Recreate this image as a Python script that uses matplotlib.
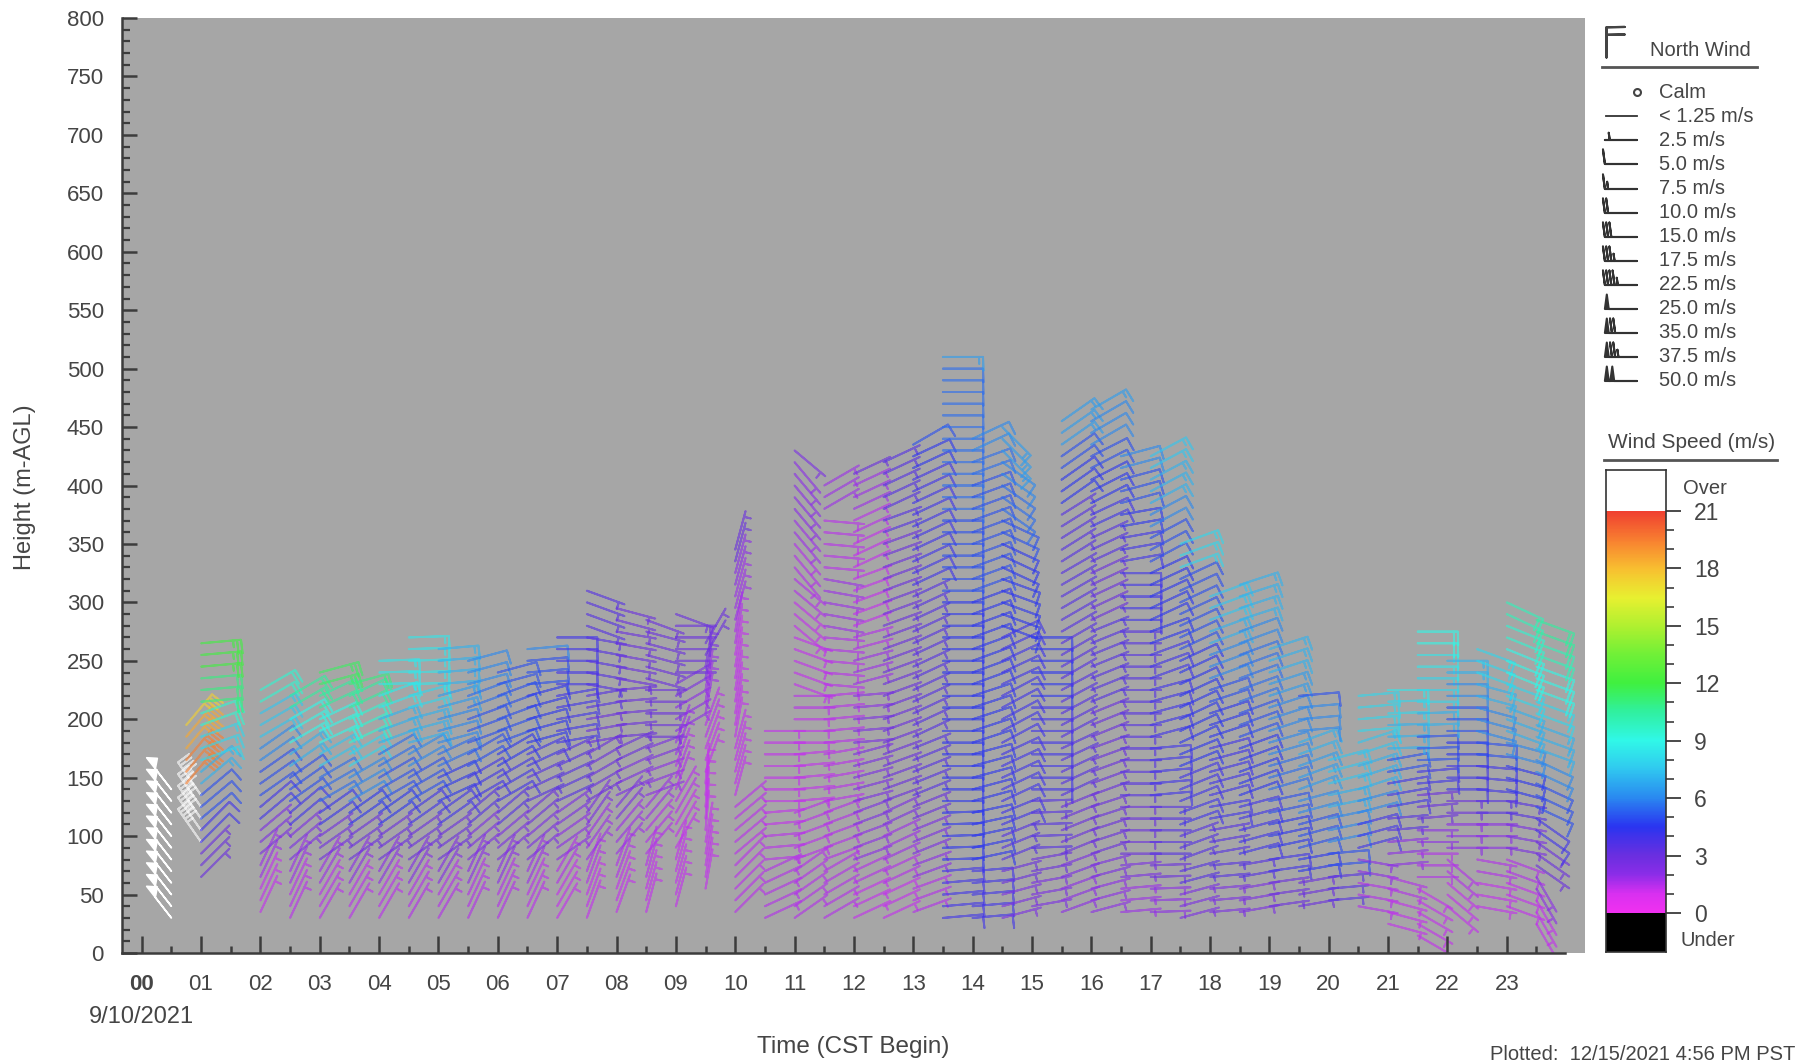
import numpy as np
import matplotlib
matplotlib.use("Agg")
import matplotlib.pyplot as plt
from matplotlib.colors import LinearSegmentedColormap, Normalize

plt.rcParams['font.family'] = ['Liberation Sans', 'DejaVu Sans']

W, H = 1797, 1061

# columns of the profiler: hour, lowest gate, highest gate (m)
col_hours = [0.5, 1.0, 0.75, 1.0, 2.0, 2.5, 3.0, 3.5, 4.0, 4.5, 5.0, 5.5, 6.0, 6.5, 7.0, 7.5, 8.0, 8.5, 9.0, 9.5,
             10.0, 10.5, 11.0, 11.5, 12.0, 12.5, 13.0, 13.5, 14.0, 14.5, 15.0, 15.5, 16.0, 16.5, 17.0, 17.5,
             18.0, 18.5, 19.0, 19.5, 20.0, 20.5, 21.0, 21.5, 22.0, 22.5, 23.0, 23.5]
col_bottom = [30, 95, 145, 65, 35, 30, 30, 30, 30, 30, 30, 30, 30, 30, 30, 30, 35, 35, 40, 55,
              35, 30, 30, 30, 30, 30, 35, 30, 30, 30, 40, 35, 35, 35, 35, 30,
              35, 35, 40, 40, 45, 40, 25, 15, 40, 40, 40, 25]
col_top = [140, 140, 200, 265, 225, 225, 240, 235, 250, 270, 260, 250, 240, 260, 270, 315, 300, 290, 295, 270,
           350, 195, 430, 400, 410, 425, 440, 510, 440, 450, 275, 460, 470, 425, 430, 350,
           310, 315, 260, 220, 170, 225, 225, 275, 250, 265, 300, 285]

# speed (m/s) per 25 m going up from the lowest gate
col_speed = [
    [26], [23], [19.5, 18.5, 17.5], [3, 4, 5, 7, 8, 9.5, 11, 12],
    [1.3, 1.8, 2.5, 4, 5, 6, 7.5, 9.5],
    [1.4, 1.8, 2.5, 4, 5, 7, 9, 10.5, 11.5],
    [1.4, 1.8, 2.8, 4.2, 5.5, 7.5, 9, 10.5, 11.5],
    [1.4, 2, 3, 4.5, 6, 8, 9.5, 10.5, 11],
    [1.4, 2, 3, 4.5, 5, 5.5, 7, 8.5, 8.5, 8.5],
    [1.5, 2.2, 3, 4, 5, 6, 7, 8, 8.5, 8.5, 8.5],
    [1.5, 2.2, 3, 4, 4.5, 5.5, 6, 6.5, 7, 7, 7.5],
    [1.5, 2, 2.5, 3.5, 4, 5, 5, 5.5, 6, 6.5],
    [1.5, 2, 2.5, 3.5, 4, 4.5, 5, 5, 5, 5.5],
    [1.4, 1.8, 2.5, 3, 3.5, 4, 4.5, 4.5, 5, 6, 8],
    [1.3, 1.5, 2, 2.5, 3.5, 3.5, 4, 4, 4, 4, 4.5],
    [1.3, 1.5, 1.8, 2.5, 3, 3, 3, 3.5, 3.5, 3.5, 3.5, 3.5],
    [1.3, 1.5, 1.8, 2.5, 2.5, 3, 3, 3, 3, 3, 3],
    [1.3, 1.4, 1.5, 1.8, 2, 2.5, 3, 3, 3, 3, 3],
    [1.3, 1.3, 1.3, 1.4, 1.5, 1.8, 2, 2.5, 3, 3],
    [1.3, 1.3, 1.3, 1.3, 1.3, 1.4, 1.8, 2.5, 3],
    [1.4, 1.4, 1.4, 1.4, 1.3, 1.3, 1.3, 1.3, 1.3, 1.5, 1.8, 2, 3],
    [1.5, 1.5, 1.4, 1.3, 1.3, 1.3, 1.3],
    [1.5, 1.5, 1.4, 1.4, 1.3, 1.3, 1.3, 1.4, 1.3, 1.3, 1.3, 1.5, 1.5, 1.8, 2, 2, 2.5],
    [1.5, 1.5, 1.5, 1.5, 1.4, 1.4, 1.4, 1.4, 1.4, 1.5, 1.8, 1.8, 1.4, 1.4, 1.8, 2],
    [1.3, 1.5, 2, 2.5, 2.5, 2.5, 2.5, 2, 1.8, 1.5, 1.3, 1.3, 1.3, 1.4, 1.8, 3],
    [1.3, 1.5, 1.8, 2.5, 3, 3, 3, 3, 3, 3, 3, 3, 3, 3.5, 3.5, 3.5, 3.5],
    [1.5, 2, 2.5, 3, 3.5, 3.5, 3.5, 3.5, 3.5, 3.5, 3.5, 4, 4, 4, 4, 4.5, 5],
    [4, 4, 4.5, 4.5, 4.5, 4.5, 4.5, 4.5, 4.5, 4.5, 4.5, 5, 5, 5, 5.5, 5.5, 5.5, 5.5, 5.5, 6.5],
    [4, 4, 4.5, 4.5, 4.5, 4.5, 4.5, 4.5, 4.5, 4.5, 4.5, 5, 5, 5, 5, 5.5, 6, 6],
    [2.5, 3, 3.5, 4, 4, 4, 4, 4, 4, 4, 4.5, 4.5, 4.5, 5, 5.5, 6, 6.5, 7],
    [2.5, 3, 3.5, 3.5, 4, 4, 4, 4.5, 4.5, 4.5],
    [2, 2.5, 3, 3, 3.5, 3.5, 3.5, 3.5, 3.5, 3.5, 3.5, 3.5, 3.5, 3.5, 4.5, 5, 6.5],
    [2, 2.5, 3, 3, 3, 3, 3, 3.5, 3.5, 3.5, 3, 3, 3.5, 4, 4.5, 5, 6, 6.5],
    [1.8, 2.5, 3, 3, 3.5, 3.5, 3.5, 3.5, 3.5, 3.5, 4, 4, 4, 4.5, 5, 6],
    [2, 3, 3.5, 3.5, 4, 4, 4, 4, 4, 4.5, 4.5, 4.5, 5, 6, 7, 7.5],
    [2.5, 3.5, 3.5, 4, 4, 4.5, 4.5, 4.5, 4.5, 5, 5, 5, 8],
    [2.5, 3.5, 3.5, 4, 4, 4, 4.5, 5, 6, 7, 7.5],
    [2.5, 3.5, 4, 4, 4.5, 4.5, 5, 5.5, 5.5, 6, 7],
    [3, 4, 4.5, 5, 5.5, 6, 6, 6.5, 7],
    [3, 4.5, 5, 6, 6.5, 7, 6, 5],
    [3.5, 5, 6, 7, 7.5],
    [1.5, 2, 4, 6, 7, 7.5, 8, 8, 8],
    [1.3, 1.5, 2, 3.5, 4, 5, 7, 8, 8.5],
    [1.3, 1.3, 1.5, 2, 3, 4, 5, 7, 8, 8.5, 9],
    [1.3, 1.5, 2, 3, 4, 4.5, 5, 6, 7, 8],
    [1.3, 1.5, 2, 3.5, 4, 5, 6, 7, 8, 9],
    [1.3, 1.5, 2.5, 3.5, 4.5, 6, 7, 8, 9, 9.5, 10],
    [1.3, 2, 3, 4, 5, 6, 7, 8, 9, 10, 10.5],
]

# direction (deg) per 50 m going up from the lowest gate
col_dir = [
    [322], [325], [40], [45, 50, 70, 85],
    [25, 50, 55, 60, 65], [25, 50, 55, 60, 70], [30, 55, 60, 65, 75], [30, 55, 60, 65, 75],
    [30, 55, 60, 70, 88], [30, 55, 60, 75, 88], [30, 55, 65, 75, 85, 88], [25, 50, 60, 70, 75, 78],
    [25, 50, 60, 70, 75, 75], [25, 50, 65, 75, 85, 88], [30, 55, 65, 80, 90, 90],
    [20, 35, 60, 80, 100, 110, 110], [20, 40, 65, 85, 100, 105], [15, 40, 70, 90, 105, 110],
    [15, 30, 20, 60, 90, 110, 115], [10, 5, 20, 10, 30, 25, 30],
    [45, 50, 15, 10, 10, 15, 15, 20], [65, 85, 90, 90], [55, 70, 85, 90, 110, 130, 140, 140, 130],
    [60, 70, 80, 85, 95, 100, 95, 60], [65, 70, 75, 85, 75, 70, 65, 65], [65, 65, 70, 70, 70, 70, 70, 65],
    [70, 68, 68, 65, 65, 65, 65, 65, 60], [85, 88, 90, 90, 90, 90, 90, 90, 90, 90],
    [85, 78, 75, 72, 70, 70, 70, 70, 65], [75, 68, 65, 62, 65, 110, 115, 125, 135],
    [80, 88, 90, 90, 90], [70, 68, 65, 62, 60, 60, 58, 55, 55], [75, 72, 70, 68, 68, 65, 65, 63, 60],
    [85, 90, 90, 90, 90, 90, 80, 75], [88, 90, 85, 75, 70, 65, 62, 62], [75, 70, 68, 65, 65, 65, 70],
    [85, 80, 75, 72, 70, 70], [80, 75, 70, 70, 70, 72], [82, 78, 74, 72, 72], [80, 75, 70, 85, 90],
    [85, 78, 75], [100, 75, 72, 85, 90], [105, 85, 80, 88, 90], [120, 90, 85, 88, 90, 90],
    [130, 90, 90, 90, 90], [100, 90, 95, 105, 110], [110, 100, 105, 110, 112, 115],
    [150, 125, 115, 110, 110, 110],
]

hour_labels = ["%02d" % h for h in range(24)]
height_ticks = list(range(0, 801, 50))

legend_labels = ["Calm", "< 1.25 m/s", "2.5 m/s", "5.0 m/s", "7.5 m/s", "10.0 m/s", "15.0 m/s",
                 "17.5 m/s", "22.5 m/s", "25.0 m/s", "35.0 m/s", "37.5 m/s", "50.0 m/s"]
legend_speeds = [2.5, 5, 7.5, 10, 15, 17.5, 22.5, 25, 35, 37.5, 50]

cbar_ticks = [0, 3, 6, 9, 12, 15, 18, 21]
cmap_stops = [(0, "#f030f0"), (1, "#d830f0"), (2, "#8a2de8"), (3, "#6a2fe0"), (4.5, "#2a35f0"),
              (6, "#2a88f0"), (7.5, "#30c8f0"), (9, "#30f8e8"), (10.5, "#30f0a0"), (12, "#40f040"),
              (13.5, "#70f038"), (15, "#b0f030"), (16.5, "#e8f030"), (18, "#f8c030"), (19.5, "#f88030"),
              (21, "#f04030")]

cmap = LinearSegmentedColormap.from_list("wind", [(v / 21, c) for v, c in cmap_stops], N=512)
cmap.set_over("white")
cmap.set_under("black")
norm = Normalize(0, 21)

dark = "#3c3c3c"
txt = "#454545"
incr = dict(half=2.5, full=5, flag=25)


def px_axes(fig, x0, y0, x1, y1):
    return fig.add_axes([x0 / W, 1 - y1 / H, (x1 - x0) / W, (y1 - y0) / H])


fig = plt.figure(figsize=(W / 100, H / 100), dpi=100, facecolor="white")

# main panel
ax = px_axes(fig, 122, 18, 1585, 953)
ax.set_facecolor("#a6a6a6")
hour_px = 59.35
ax.set_xlim((122 - 141.7) / hour_px, (1585 - 141.7) / hour_px)
ax.set_ylim(0, 800)

xs, ys, us, vs, cs = [], [], [], [], []
for hr, bot, top, sp, dr in zip(col_hours, col_bottom, col_top, col_speed, col_dir):
    for z in range(bot, top + 1, 10):
        s = sp[min((z - bot) // 25, len(sp) - 1)]
        d = np.radians(dr[min((z - bot) // 50, len(dr) - 1)])
        xs.append(hr)
        ys.append(z)
        us.append(-s * np.sin(d))
        vs.append(-s * np.cos(d))
        cs.append(s)
xs, ys, us, vs, cs = map(np.array, (xs, ys, us, vs, cs))

slow = cs < 25
ax.barbs(xs[slow], ys[slow], us[slow], vs[slow], cs[slow], cmap=cmap, norm=norm, length=7.6, linewidth=1.4,
         alpha=0.6, barb_increments=incr, sizes=dict(height=0.34, spacing=0.1, width=0.02))
ax.barbs(xs[~slow], ys[~slow], us[~slow], vs[~slow], cs[~slow], cmap=cmap, norm=norm, length=7.6, linewidth=1.2,
         barb_increments=incr, sizes=dict(height=0.2, spacing=0.1, width=0.35))

for s in ["top", "right"]:
    ax.spines[s].set_visible(False)
ax.spines["left"].set_color(dark)
ax.spines["left"].set_linewidth(1.8)
ax.spines["bottom"].set_color(dark)
ax.spines["bottom"].set_linewidth(1.8)
ax.spines["bottom"].set_bounds(ax.get_xlim()[0], 23.98)

ax.set_xticks(range(24))
ax.set_xticklabels(hour_labels, fontsize=16, color=txt)
ax.get_xticklabels()[0].set_fontweight("bold")
ax.set_xticks(np.arange(0.5, 24, 1), minor=True)
ax.set_yticks(height_ticks)
ax.set_yticklabels([str(v) for v in height_ticks], fontsize=16, color=txt)
ax.set_yticks(range(0, 801, 10), minor=True)
ax.tick_params(axis="x", which="major", direction="in", length=12, width=1.8, color=dark, pad=15)
ax.tick_params(axis="x", which="minor", direction="in", length=5, width=1.8, color=dark)
ax.tick_params(axis="y", which="major", direction="in", length=11, width=1.8, color=dark, pad=13)
ax.tick_params(axis="y", which="minor", direction="in", length=5.5, width=1.6, color=dark)

# overlay in pixel coordinates for texts and the barb legend
ov = fig.add_axes([0, 0, 1, 1], zorder=5)
ov.set_xlim(0, W)
ov.set_ylim(H, 0)
ov.axis("off")
ov.patch.set_alpha(0)

ov.text(141, 1017, "9/10/2021", fontsize=17, color=txt, ha="center", va="center")
ov.text(853, 1047, "Time (CST Begin)", fontsize=17.5, color=txt, ha="center", va="center")
ov.text(25, 487, "Height (m-AGL)", fontsize=17, color=txt, rotation=90, ha="center", va="center")
ov.text(1795, 1055, "Plotted:  12/15/2021 4:56 PM PST", fontsize=14.5, color=txt, ha="right", va="center")

# barb legend
row_y = [92, 116, 140, 164, 189, 213, 237, 261, 285, 309, 333, 357, 381]
ov.barbs([1606], [57], [0], [-10], length=6.6, linewidth=1.6, color="#444444", barb_increments=incr,
         sizes=dict(height=0.6, spacing=0.25, width=0.02))
ov.text(1700, 51, "North Wind", fontsize=14.5, color=txt, ha="center", va="center")
ov.plot([1602, 1757], [67, 67], color="#555555", lw=2)
ov.plot([1637], [row_y[0]], "o", ms=5, mfc="none", mec="#444444", mew=1.5)
ov.plot([1606, 1637], [row_y[1], row_y[1]], color="#333333", lw=1.3)
ov.barbs([1637] * len(legend_speeds), row_y[2:], legend_speeds, [0] * len(legend_speeds),
         length=6.8, linewidth=1.5, color="#333333", barb_increments=incr,
         sizes=dict(height=0.45, spacing=0.1, width=0.12))
for lab, y in zip(legend_labels, row_y):
    ov.text(1659, y, lab, fontsize=14.5, color=txt, ha="left", va="center")

# colour bar
cax = px_axes(fig, 1606, 470, 1666, 952)
per_unit = (913 - 511) / 21
lo = -(952 - 913) / per_unit
hi = 21 + (511 - 470) / per_unit
vals = np.linspace(lo, hi, 600).reshape(-1, 1)
cax.imshow(vals, aspect="auto", origin="lower", extent=[0, 1, lo, hi], cmap=cmap, norm=norm,
           interpolation="nearest")
cax.set_xticks([])
cax.yaxis.tick_right()
cax.set_yticks(cbar_ticks)
cax.set_yticklabels([str(v) for v in cbar_ticks], fontsize=16.5, color=txt)
cax.set_yticks(range(0, 22), minor=True)
cax.tick_params(axis="y", which="major", length=11, width=1.3, color=dark, pad=9)
cax.tick_params(axis="y", which="minor", length=6, width=1.2, color=dark)
for s in cax.spines.values():
    s.set_color("#333333")
    s.set_linewidth(1.2)

ov.text(1692, 443, "Wind Speed (m/s)", fontsize=15, color=txt, ha="center", va="center")
ov.plot([1604, 1777], [460, 460], color="#555555", lw=2)
ov.text(1705, 489, "Over", fontsize=14.5, color=txt, ha="center", va="center")
ov.text(1708, 940, "Under", fontsize=14.5, color=txt, ha="center", va="center")

fig.savefig("out.png", dpi=100)
